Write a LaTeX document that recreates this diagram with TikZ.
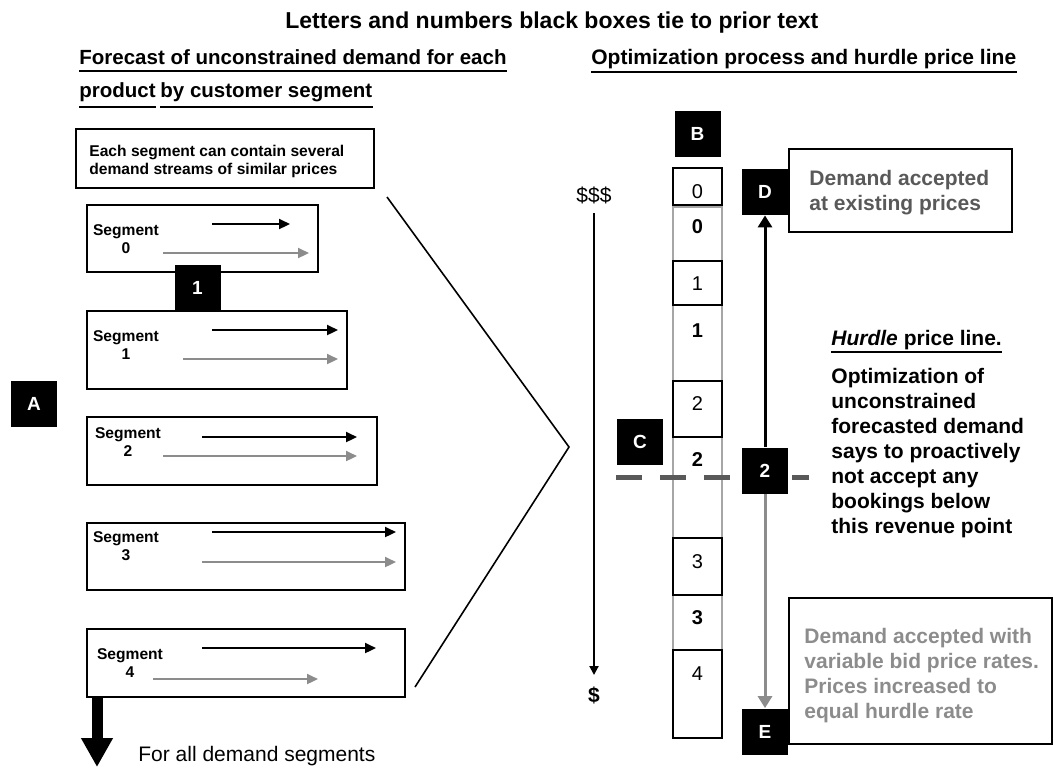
\documentclass[tikz,border=0pt]{standalone}
\usepackage{fontspec}
\setmainfont{Liberation Sans}
\usetikzlibrary{fit,arrows.meta,positioning}

\definecolor{streamgray}{HTML}{8C8C8C}
\definecolor{textgray}{HTML}{595959}
\definecolor{cellgray}{HTML}{A6A6A6}

\tikzset{
  bigfont/.style={font=\fontsize{10.5}{12.5}\selectfont\bfseries},
  heading/.style={bigfont, inner sep=0pt, anchor=base west},
  letterbox/.style={fill=black, text=white, font=\fontsize{9.5}{11}\selectfont\bfseries, minimum size=23pt, inner sep=0pt},
  segbox/.style={draw, line width=0.6pt, inner sep=0pt},
  segtext/.style={font=\fontsize{7.8}{9}\selectfont\bfseries, inner sep=0pt, anchor=base},
  stream/.style={-{Triangle[length=5.5pt,width=5pt]}, line width=1.1pt},
  cellnorm/.style={draw, line width=0.6pt, inner sep=0pt},
  cellbold/.style={draw=cellgray, line width=0.6pt, inner sep=0pt},
  digit/.style={font=\fontsize{10}{12}\selectfont, inner sep=0pt, anchor=base},
  underline/.style={line width=0.75pt},
}

\begin{document}
\begin{tikzpicture}[x=0.5pt, y=-0.5pt]
    \useasboundingbox (0,0) rectangle (1053,767);

    % Headings
    \node[font=\fontsize{11.5}{13}\selectfont\bfseries, inner sep=0pt, anchor=base west] (title) at (285,28) {Letters and numbers black boxes tie to prior text};
    \node[heading, font=\fontsize{10.25}{12.5}\selectfont\bfseries] (lefthead1) at (79,64) {Forecast of unconstrained demand for each};
    \node[heading, font=\fontsize{10.25}{12.5}\selectfont\bfseries] (lefthead2a) at (79,97) {product};
    \node[heading, font=\fontsize{10.25}{12.5}\selectfont\bfseries] (lefthead2b) at (160,97) {by customer segment};
    \node[heading] (righthead) at (591,64) {Optimization process and hurdle price line};
    \draw[underline] ([yshift=-3.5pt]lefthead1.base west) -- ([yshift=-3.5pt]lefthead1.base east);
    \draw[underline, line width=1.3pt] ([yshift=-5pt]lefthead2a.base west) -- ([yshift=-5pt]lefthead2a.base east);
    \draw[underline] ([yshift=-5pt]lefthead2b.base west) -- ([yshift=-5pt]lefthead2b.base east);
    \draw[underline] ([yshift=-4pt]righthead.base west) -- ([yshift=-4pt]righthead.base east);

    % Segment boxes
    \node[segbox, fit={(76,129) (374,188)}] (infobox) {};
    \node[segtext, anchor=base west, align=left] (infotext) at (89,174) {Each segment can contain several\\demand streams of similar prices};
    \foreach \i/\ya/\yb/\xr/\ka/\kb/\ky/\ga/\gb/\gy/\cx/\bl in {
        0/205/272/318/212/290/224/163/309/253/126/235,
        1/311/389/347/212/338/330/183/338/359/126/341,
        2/417/485/377/202/357/437/163/357/456/128/438,
        3/523/590/405/212/396/532/202/396/562/126/542,
        4/629/697/405/202/376/648/153/318/679/130/659}
    {
        \node[segbox, fit={(87,\ya) (\xr,\yb)}] (seg\i) {};
        \node[segtext] (seg\i name) at (\cx,\bl) {Segment};
        \node[segtext] (seg\i num) at (\cx,\bl+18) {\i};
        \coordinate (k\i a) at (\ka,\ky);
        \coordinate (k\i b) at (\kb,\ky);
        \coordinate (g\i a) at (\ga,\gy);
        \coordinate (g\i b) at (\gb,\gy);
        \draw[stream] (k\i a) -- (k\i b);
        \draw[stream, streamgray] (g\i a) -- (g\i b);
    }
    \node[letterbox] (box1) at (197.5,288) {1};
    \node[letterbox] (boxA) at (34,404) {A};

    % All segments arrow
    \coordinate (allseg) at (97,767);
    \draw[line width=5.5pt, -{Triangle[length=14.5pt,width=15pt]}] (seg4.south west -| allseg) -- (allseg);
    \node[font=\fontsize{10.5}{12.5}\selectfont, inner sep=0pt, anchor=base west] (alltext) at (138,761) {For all demand segments};

    % Chevron
    \coordinate (chevtop) at (387,197);
    \coordinate (chevtip) at (569,447);
    \coordinate (chevbot) at (415,687);
    \draw[line width=0.8pt] (chevtop) -- (chevtip) -- (chevbot);

    % Price axis
    \node[font=\fontsize{10.5}{12.5}\selectfont, inner sep=0pt, anchor=base] (pricehi) at (594,202) {\$\$\$};
    \node[font=\fontsize{10.5}{12.5}\selectfont\bfseries, inner sep=0pt, anchor=base] (pricelo) at (594,702) {\$};
    \coordinate (axistop) at (594,213);
    \coordinate (axisbot) at (594,675);
    \draw[line width=1pt, -{Triangle[length=4.5pt,width=4.5pt]}] (axistop) -- (axisbot);

    % Price cells
    \foreach \n/\ya/\yb/\bl in {0/207/261/233, 1/305/381/337, 2/437/538/466, 3/595/650/624}
    {
        \node[cellbold, fit={(673,\ya) (722,\yb)}] (cellb\n) {};
        \node[digit, font=\fontsize{10}{12}\selectfont\bfseries] at (697.5,\bl) {\n};
    }
    \foreach \n/\ya/\yb/\bl in {0/168/205/198, 1/261/305/290, 2/381/437/410, 3/538/595/568, 4/650/738/680}
    {
        \node[cellnorm, fit={(673,\ya) (722,\yb)}] (celln\n) {};
        \node[digit] at (697.5,\bl) {\n};
    }
    \node[letterbox] (boxB) at (697.5,133.5) {B};

    % Hurdle line
    \coordinate (hurdleL) at (616,477);
    \coordinate (hurdleR) at (809,477);
    \draw[line width=2.5pt, textgray, dash pattern=on 13pt off 9pt] (hurdleL) -- (hurdleR);
    \node[letterbox] (boxC) at (640,442) {C};
    \node[letterbox] (box2) at (765,470.5) {2};
    \node[letterbox] (boxD) at (765,192) {D};
    \node[letterbox] (boxE) at (765,731.5) {E};

    % Draw connections
    \draw[line width=1.5pt, -{Triangle[length=6pt,width=7pt]}] (box2) -- (boxD);
    \draw[line width=1.5pt, streamgray, -{Triangle[length=6pt,width=7pt]}] (box2) -- (boxE);

    % Labels
    \node[segbox, fit={(789,149) (1012,232)}] (acceptD) {};
    \node[heading, align=left, text=textgray] (acceptDtext) at (809,210) {Demand accepted\\at existing prices};
    \node[segbox, fit={(789,598) (1052,744)}] (acceptE) {};
    \node[heading, align=left, text=streamgray] (acceptEtext) at (804,718) {Demand accepted with\\variable bid price rates.\\Prices increased to\\equal hurdle rate};
    \node[heading] (hurdlehead) at (831,345) {\textit{Hurdle} price line.};
    \draw[underline, line width=1pt] ([yshift=-3.5pt]hurdlehead.base west) -- ([yshift=-3.5pt]hurdlehead.base east);
    \node[heading, align=left] (hurdlebody) at (831,533) {Optimization of\\unconstrained\\forecasted demand\\says to proactively\\not accept any\\bookings below\\this revenue point};
\end{tikzpicture}
\end{document}
